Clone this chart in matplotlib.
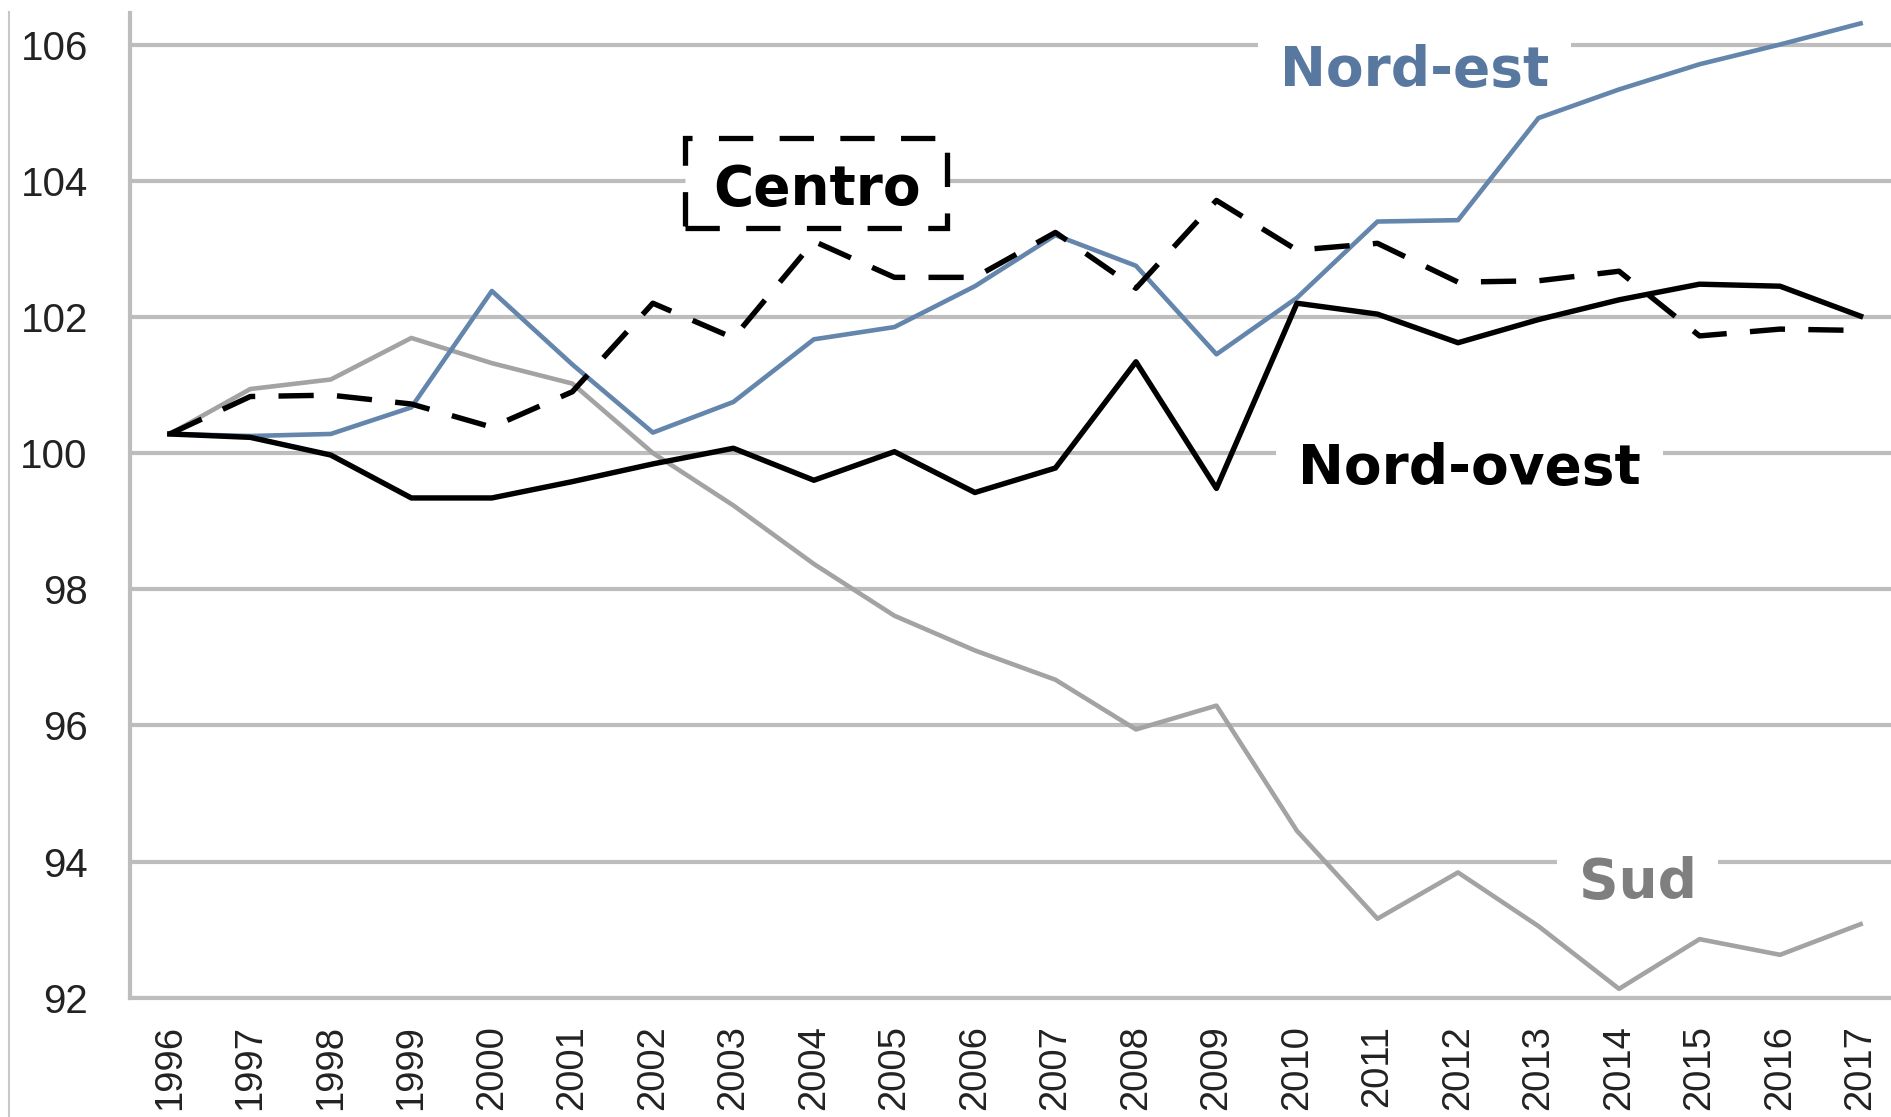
import matplotlib
matplotlib.use('Agg')
import matplotlib.pyplot as plt
from matplotlib.patches import Rectangle
from matplotlib.lines import Line2D

plt.rcParams['font.family'] = ['Liberation Sans', 'DejaVu Sans']

# valori (indice, 1996 = ~100)
years = list(range(1996, 2018))
nord_est = [100.28, 100.25, 100.28, 100.67, 102.38, 101.3, 100.30, 100.75, 101.67, 101.85, 102.45,
            103.2, 102.75, 101.45, 102.28, 103.40, 103.42, 104.92, 105.34, 105.71, 106.0, 106.31]
centro = [100.28, 100.83, 100.85, 100.72, 100.38, 100.9, 102.2, 101.69, 103.11, 102.58, 102.58,
          103.24, 102.42, 103.71, 102.98, 103.08, 102.51, 102.53, 102.67, 101.72, 101.82, 101.80]
nord_ovest = [100.28, 100.23, 99.97, 99.34, 99.34, 99.58, 99.84, 100.07, 99.6, 100.02, 99.42,
              99.78, 101.34, 99.48, 102.2, 102.04, 101.62, 101.96, 102.25, 102.48, 102.45, 102.01]
sud = [100.28, 100.94, 101.08, 101.69, 101.32, 101.02, 100.0, 99.23, 98.37, 97.61, 97.10,
       96.67, 95.94, 96.29, 94.45, 93.16, 93.84, 93.05, 92.13, 92.86, 92.63, 93.08]
y_ticks = [92, 94, 96, 98, 100, 102, 104, 106]

grid_c = '#bdbdbd'
blue = '#6485ac'

fig = plt.figure(figsize=(18.91, 11.17), dpi=100)
ax = fig.add_axes([0.0685, 0.1068, 0.9367, 0.8820])
ax.set_xlim(1995.5, 2017.5)
ax.set_ylim(92, 106.47)

ax.set_yticks(y_ticks)
ax.set_yticklabels([str(v) for v in y_ticks])
ax.set_xticks(years)
ax.set_xticklabels([str(y) for y in years], rotation=90)
ax.yaxis.grid(True, color=grid_c, lw=3)
ax.set_axisbelow(True)
ax.tick_params(axis='both', length=0, labelcolor='#222222')
ax.tick_params(axis='y', pad=30, labelsize=29)
ax.tick_params(axis='x', pad=19.5, labelsize=27.5)
for s in ['top', 'right']:
    ax.spines[s].set_visible(False)
for s in ['left', 'bottom']:
    ax.spines[s].set_color(grid_c)
    ax.spines[s].set_linewidth(3)

ax.plot(years, sud, color='#a3a3a3', lw=3.3, zorder=3)
ax.plot(years, nord_est, color=blue, lw=3.3, zorder=4)
ax.plot(years, nord_ovest, color='black', lw=3.9, zorder=5)
ax.plot(years, centro, color='black', lw=3.9, dashes=(6.5, 4.3), zorder=6)

lab = dict(fontsize=39.5, fontweight='bold', family='DejaVu Sans', ha='center', va='baseline', zorder=2)
box = dict(boxstyle='square,pad=0.4', fc='white', ec='none')
ax.text(2011.46, 105.39, 'Nord-est', color='#5878a0', bbox=box, **lab)
ax.text(2012.14, 99.54, 'Nord-ovest', color='black', bbox=box, **lab)
ax.text(2014.23, 93.46, 'Sud', color='#7f7f7f', bbox=box, **lab)

ax.add_patch(Rectangle((2002.40, 103.30), 3.25, 1.32, fc='white', ec='black', lw=3.8,
                       linestyle=(0, (6.5, 5)), zorder=2))
ax.text(2004.04, 103.64, 'Centro', color='black', **lab)

fig.add_artist(Line2D([0.0048, 0.0048], [0, 0.989], transform=fig.transFigure, color='#c8c8c8', lw=1.5))

fig.savefig('out.png', dpi=100)
